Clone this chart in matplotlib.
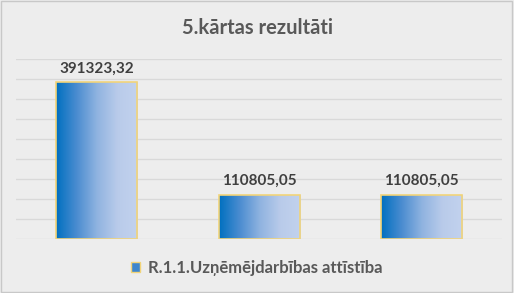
import numpy as np
import matplotlib.pyplot as plt
from matplotlib.colors import LinearSegmentedColormap
from matplotlib.patches import Patch

# dati
categories = ["1", "2", "3"]
values = [391323.32, 110805.05, 110805.05]
labels = ["391323,32", "110805,05", "110805,05"]
series_name = "R.1.1.Uzņēmējdarbības attīstība"
title = "5.kārtas rezultāti"

BG = "#EDEDED"
GRID = "#D9D9D9"
EDGE = "#F2D479"

plt.rcParams["font.family"] = ["Lato", "DejaVu Sans"]

grad = LinearSegmentedColormap.from_list(
    "grad", ["#0070C0", "#4A8CD0", "#8FB3E0", "#B9CBEA", "#C2D2EE"])

fig = plt.figure(figsize=(5.14, 2.93), dpi=100, facecolor=BG)
fig.patches.append(plt.Rectangle((0.002, 0.003), 0.995, 0.994, transform=fig.transFigure,
                                 fill=False, edgecolor="#C8C8C8", linewidth=1))
ax = fig.add_axes([0.031, 0.184, 0.946, 0.615])
ax.set_facecolor(BG)

x = np.arange(len(categories))
bars = ax.bar(x, values, width=0.5, color="none", edgecolor=EDGE, linewidth=1.2, zorder=3)

# gradients bar iekšpusē
g = np.linspace(0, 1, 256).reshape(1, -1)
for b in bars:
    x0, y0 = b.get_x(), b.get_y()
    im = ax.imshow(g, cmap=grad, aspect="auto", zorder=2,
                   extent=[x0, x0 + b.get_width(), y0, y0 + b.get_height()])
    im.set_clip_path(b)

for xi, v, lab in zip(x, values, labels):
    ax.annotate(lab, (xi, v), xytext=(0, 5), textcoords="offset points",
                ha="center", va="bottom", fontsize=11, fontweight="bold", color="#404040")

ax.set_xlim(-0.5, len(categories) - 0.5)
ax.set_ylim(0, 450000)
ax.set_yticks(np.arange(0, 450001, 50000))
ax.yaxis.grid(True, color=GRID, linewidth=1)
ax.set_axisbelow(True)
ax.tick_params(left=False, bottom=False, labelleft=False, labelbottom=False)
for s in ax.spines.values():
    s.set_visible(False)

fig.text(0.5, 0.905, title, ha="center", va="center", fontsize=14.5,
         fontweight="bold", color="#595959")

leg = fig.legend(handles=[Patch(facecolor="#3F86CC", edgecolor=EDGE)], labels=[series_name],
                 loc="center", bbox_to_anchor=(0.5, 0.085), frameon=False,
                 handlelength=0.5, handleheight=0.5, handletextpad=0.5,
                 prop={"size": 12, "weight": "bold"})
for t in leg.get_texts():
    t.set_color("#595959")

fig.savefig("out.png", dpi=100, facecolor=BG)
